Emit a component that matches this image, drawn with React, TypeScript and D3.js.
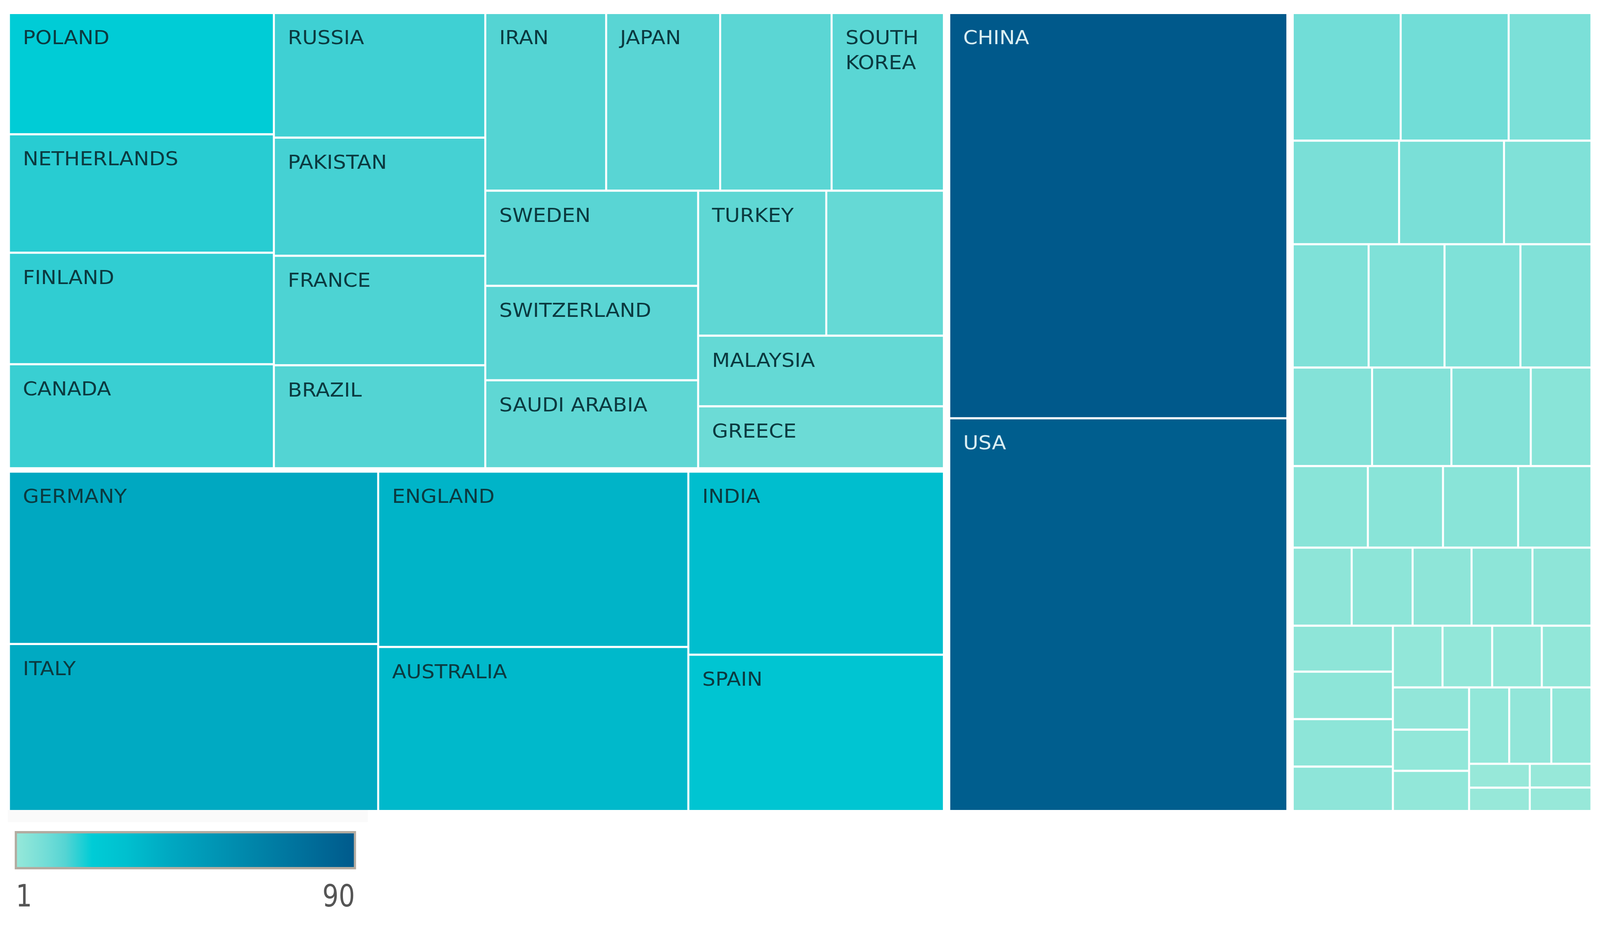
import { useEffect, useRef } from 'react'
import * as d3 from 'd3'

const WIDTH = 4341
const HEIGHT = 2370

// values are read off the tile areas, roughly in the same unit as the 1..90 legend
const bigCol1 = ['GERMANY', 'ITALY']
const bigCol1Values = [41.9, 40.6]
const bigCol2 = ['ENGLAND', 'AUSTRALIA']
const bigCol2Values = [35.8, 33.5]
const bigCol3 = ['INDIA', 'SPAIN']
const bigCol3Values = [30.8, 26.3]

const midCol1 = ['POLAND', 'NETHERLANDS', 'FINLAND', 'CANADA']
const midCol1Values = [21.1, 20.6, 19.4, 18.1]
const midCol2 = ['RUSSIA', 'PAKISTAN', 'FRANCE', 'BRAZIL']
const midCol2Values = [17.3, 16.4, 15.2, 14.3]

const smallTop = ['IRAN', 'JAPAN', '', 'SOUTH\nKOREA']
const smallTopValues = [14.1, 13.3, 13.0, 13.1]
const smallLeft = ['SWEDEN', 'SWITZERLAND', 'SAUDI ARABIA']
const smallLeftValues = [13.3, 13.2, 12.3]
const smallPair = ['TURKEY', '']
const smallPairValues = [12.2, 11.2]
const smallStack = ['MALAYSIA', 'GREECE']
const smallStackValues = [11.4, 10.0]

const topTwo = ['CHINA', 'USA']
const topTwoValues = [90.6, 87.8]

// unlabelled block on the right, row by row
const restRow1 = [9.13, 9.13, 7.0]
const restRow2 = [7.3, 7.2, 6.0]
const restRow3 = [6.2, 6.2, 6.2, 5.8]
const restRow4 = [5.18, 5.18, 5.18, 3.96]
const restRow5 = [4.06, 4.06, 4.06, 3.96]
const restRow6 = [3.05, 3.15, 3.05, 3.15, 3.05]
const restStack = [3.05, 3.15, 3.15, 2.95]
const restFour = [2.03, 2.03, 2.03, 2.03]
const restThree = [2.13, 2.08, 2.03]
const restTrio = [2.03, 2.13, 2.03]
const restQuadLeft = [0.96, 0.94]
const restQuadRight = [0.97, 0.96]

const legendMin = 1
const legendMax = 90
const colorStops: [number, string][] = [
  [1, '#97e8d9'],
  [9, '#72ddd7'],
  [14, '#55d4d3'],
  [20.6, '#28ccd2'],
  [21, '#00ccd6'],
  [30, '#00c0cf'],
  [41, '#00a9c2'],
  [90, '#005a8c'],
]
// the legend ramp runs straight from 14 into the full cyan
const legendStops = colorStops.filter((d) => d[0] !== 20.6)

type TileNode = { name?: string; value?: number; dir?: 'row' | 'col'; children?: TileNode[] }

const leaves = (names: string[], values: number[], dir: 'row' | 'col'): TileNode => ({
  dir,
  children: values.map((value, i) => ({ name: names[i] ?? '', value })),
})
const unnamed = (values: number[], dir: 'row' | 'col') => leaves([], values, dir)
const group = (dir: 'row' | 'col', ...children: TileNode[]): TileNode => ({ dir, children })

const tree: TileNode = group(
  'row',
  group(
    'col',
    group(
      'row',
      leaves(midCol1, midCol1Values, 'col'),
      leaves(midCol2, midCol2Values, 'col'),
      group(
        'col',
        leaves(smallTop, smallTopValues, 'row'),
        group(
          'row',
          leaves(smallLeft, smallLeftValues, 'col'),
          group('col', leaves(smallPair, smallPairValues, 'row'), leaves(smallStack, smallStackValues, 'col')),
        ),
      ),
    ),
    group(
      'row',
      leaves(bigCol1, bigCol1Values, 'col'),
      leaves(bigCol2, bigCol2Values, 'col'),
      leaves(bigCol3, bigCol3Values, 'col'),
    ),
  ),
  leaves(topTwo, topTwoValues, 'col'),
  group(
    'col',
    unnamed(restRow1, 'row'),
    unnamed(restRow2, 'row'),
    unnamed(restRow3, 'row'),
    unnamed(restRow4, 'row'),
    unnamed(restRow5, 'row'),
    unnamed(restRow6, 'row'),
    group(
      'row',
      unnamed(restStack, 'col'),
      group(
        'col',
        unnamed(restFour, 'row'),
        group(
          'row',
          unnamed(restThree, 'col'),
          group(
            'col',
            unnamed(restTrio, 'row'),
            group('row', unnamed(restQuadLeft, 'col'), unnamed(restQuadRight, 'col')),
          ),
        ),
      ),
    ),
  ),
)

export default function App() {
  const svgRef = useRef<SVGSVGElement>(null)

  useEffect(() => {
    if (!svgRef.current) return
    const svg = d3.select(svgRef.current)
    svg.selectAll('*').remove()

    const color = d3
      .scaleLinear<string>()
      .domain(colorStops.map((d) => d[0]))
      .range(colorStops.map((d) => d[1]))
      .interpolate(d3.interpolateRgb)

    const root = d3.hierarchy<TileNode>(tree).sum((d) => d.value ?? 0)
    const leftBlock = root.children?.[0]

    const tile = (node: any, x0: number, y0: number, x1: number, y1: number) => {
      if (node.data.dir === 'row') d3.treemapDice(node, x0, y0, x1, y1)
      else d3.treemapSlice(node, x0, y0, x1, y1)
    }

    d3
      .treemap<TileNode>()
      .size([WIDTH, HEIGHT])
      .tile(tile)
      .paddingTop((node) => (node === root ? 36 : 0))
      .paddingLeft((node) => (node === root ? 27 : 0))
      .paddingRight((node) => (node === root ? 26 : 0))
      .paddingBottom((node) => (node === root ? 297 : 0))
      .paddingInner((node) => (node === root ? 20 : node === leftBlock ? 14 : 5.5))(root)

    const cells = svg
      .selectAll('g.cell')
      .data(root.leaves() as d3.HierarchyRectangularNode<TileNode>[])
      .enter()
      .append('g')
      .attr('class', 'cell')
      .attr('transform', (d) => `translate(${d.x0},${d.y0})`)

    cells
      .append('rect')
      .attr('width', (d) => d.x1 - d.x0)
      .attr('height', (d) => d.y1 - d.y0)
      .attr('fill', (d) => color(d.data.value ?? 1))

    cells
      .filter((d) => !!d.data.name)
      .append('text')
      .attr('transform', 'translate(35,0) scale(1.15,1)')
      .attr('font-family', '"DejaVu Sans"')
      .attr('font-size', 49)
      .attr('fill', (d) => ((d.data.value ?? 0) > 60 ? '#d9eef2' : '#0b3a40'))
      .selectAll('tspan')
      .data((d) => (d.data.name ?? '').split('\n'))
      .enter()
      .append('tspan')
      .attr('x', 0)
      .attr('y', (_, i) => 77 + i * 64)
      .text((d) => d)

    // artefact strip under the treemap
    svg.append('rect').attr('x', 21).attr('y', 2073).attr('width', 977).attr('height', 31).attr('fill', '#fafafa')

    const legendX = d3.scaleLinear().domain([legendMin, legendMax]).range([43, 963])

    const defs = svg.append('defs')
    const gradient = defs.append('linearGradient').attr('id', 'legend-gradient')
    gradient
      .selectAll('stop')
      .data(legendStops)
      .enter()
      .append('stop')
      .attr('offset', (d) => `${((legendX(d[0]) - legendX(legendMin)) / (legendX(legendMax) - legendX(legendMin))) * 100}%`)
      .attr('stop-color', (d) => d[1])

    svg
      .append('rect')
      .attr('x', legendX(legendMin))
      .attr('y', 2130)
      .attr('width', legendX(legendMax) - legendX(legendMin))
      .attr('height', 92)
      .attr('fill', 'url(#legend-gradient)')
      .attr('stroke', '#b3aba0')
      .attr('stroke-width', 6)

    const legendAxis = svg.append('g').attr('font-family', '"DejaVu Sans"').attr('font-size', 78).attr('fill', '#555555')
    legendAxis
      .append('text')
      .attr('transform', `translate(${legendX(legendMin)},2320) scale(0.89,1)`)
      .text(legendMin)
    legendAxis
      .append('text')
      .attr('transform', `translate(${legendX(legendMax)},2320) scale(0.89,1)`)
      .attr('text-anchor', 'end')
      .text(legendMax)
  }, [])

  // the browser window tops out narrower than the reference, so the drawing is fitted to it
  return (
    <svg
      ref={svgRef}
      viewBox={`0 0 ${WIDTH} ${HEIGHT}`}
      preserveAspectRatio="none"
      style={{ position: 'absolute', left: 0, top: 0, width: '100vw', height: '100vh', display: 'block', background: '#ffffff' }}
    />
  )
}
